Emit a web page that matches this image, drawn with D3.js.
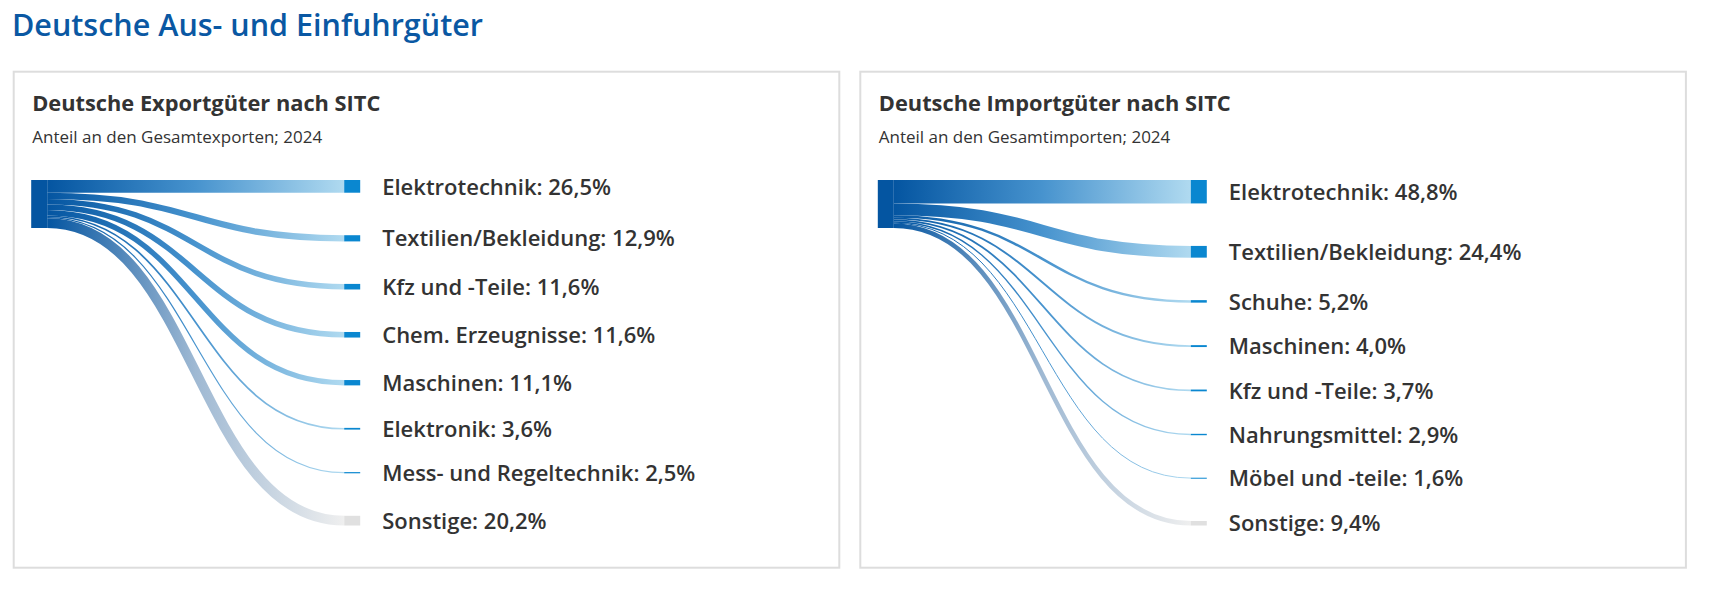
<!DOCTYPE html>
<html lang="de">
<head>
<meta charset="utf-8">
<script src="https://cdn.jsdelivr.net/npm/d3@7"></script>
<style>
  body { margin: 0; background: #fff; }
  text { font-family: "Open Sans", sans-serif; }
</style>
</head>
<body>
<svg id="chart" width="1731" height="598"></svg>
<script>
// Exporte 2024, Anteil in %
var exportLabels = ["Elektrotechnik", "Textilien/Bekleidung", "Kfz und -Teile", "Chem. Erzeugnisse",
  "Maschinen", "Elektronik", "Mess- und Regeltechnik", "Sonstige"];
var exportValues = [26.5, 12.9, 11.6, 11.6, 11.1, 3.6, 2.5, 20.2];

// Importe 2024, Anteil in %
var importLabels = ["Elektrotechnik", "Textilien/Bekleidung", "Schuhe", "Maschinen",
  "Kfz und -Teile", "Nahrungsmittel", "Möbel und -teile", "Sonstige"];
var importValues = [48.8, 24.4, 5.2, 4.0, 3.7, 2.9, 1.6, 9.4];

var svg = d3.select("#chart");
var defs = svg.append("defs");

var de = d3.formatLocale({decimal: ",", thousands: ".", grouping: [3], currency: ["", " €"]});
var fmt = de.format(".1f");

// link colours: source -> middle -> target end
var blueStops = ["#0455a1", "#4793ce", "#b0daf0"];
var greyStops = ["#0455a1", "#9fb9d3", "#efefef"];

svg.append("text")
  .attr("x", 12)
  .attr("y", 36)
  .attr("fill", "#0a58a3")
  .style("font-size", "30.5px")
  .style("font-weight", 600)
  .text("Deutsche Aus- und Einfuhrgüter");

function drawPanel(px, title, subtitle, labels, values, id) {
  var g = svg.append("g").attr("transform", "translate(" + px + ",0)");

  g.append("rect")
    .attr("x", 0).attr("y", 71.7)
    .attr("width", 825.6).attr("height", 496)
    .attr("fill", "none")
    .attr("stroke", "#dddddd")
    .attr("stroke-width", 2);

  g.append("text")
    .attr("x", 18.5).attr("y", 111)
    .attr("fill", "#333")
    .style("font-size", "21.8px")
    .style("font-weight", 700)
    .text(title);

  g.append("text")
    .attr("x", 18.5).attr("y", 143)
    .attr("fill", "#333")
    .style("font-size", "17px")
    .text(subtitle);

  // sankey layout: one source, one column of targets
  var top = 180, bottom = 525.5, padding = 42.5, nodeW = 16;
  var srcX0 = 17.5, tgtX0 = 330.5;
  var total = d3.sum(values);
  var h = d3.scaleLinear()
    .domain([0, total])
    .range([0, bottom - top - padding * (values.length - 1)]);

  var nodes = labels.map(function(name, i) {
    return {name: name, value: values[i], other: name == "Sonstige"};
  });
  var ty = top, sy = top;
  nodes.forEach(function(n) {
    n.h = h(n.value);
    n.y0 = ty;
    n.y1 = ty + n.h;
    n.sy = sy + n.h / 2;
    ty += n.h + padding;
    sy += n.h;
  });

  var link = d3.linkHorizontal().x(d => d[0]).y(d => d[1]);

  nodes.forEach(function(n, i) {
    var gid = id + "-grad-" + i;
    // userSpaceOnUse -> coordinates of the panel group
    var grad = defs.append("linearGradient")
      .attr("id", gid)
      .attr("gradientUnits", "userSpaceOnUse")
      .attr("x1", srcX0 + nodeW).attr("x2", tgtX0)
      .attr("y1", 0).attr("y2", 0);
    var stops = n.other ? greyStops : blueStops;
    stops.forEach(function(c, j) {
      grad.append("stop").attr("offset", j / (stops.length - 1)).attr("stop-color", c);
    });

    g.append("path")
      .attr("d", link({source: [srcX0 + nodeW, n.sy], target: [tgtX0, (n.y0 + n.y1) / 2]}))
      .attr("fill", "none")
      .attr("stroke", "url(#" + gid + ")")
      .attr("stroke-width", Math.max(1, n.h));
  });

  g.append("rect")
    .attr("x", srcX0).attr("y", top)
    .attr("width", nodeW).attr("height", h(total))
    .attr("fill", "#0455a1");

  g.selectAll(".target")
    .data(nodes)
    .enter().append("rect")
    .attr("x", tgtX0)
    .attr("y", d => d.y0)
    .attr("width", nodeW)
    .attr("height", d => Math.max(1, d.h))
    .attr("fill", d => d.other ? "#e0e0e0" : "#0a87d0");

  g.selectAll(".label")
    .data(nodes)
    .enter().append("text")
    .attr("x", tgtX0 + nodeW + 22)
    .attr("y", d => (d.y0 + d.y1) / 2)
    .attr("dy", "0.37em")
    .attr("fill", "#333")
    .style("font-size", "22px")
    .style("font-weight", 600)
    .text(d => d.name + ": " + fmt(d.value) + "%");
}

drawPanel(13.7, "Deutsche Exportgüter nach SITC", "Anteil an den Gesamtexporten; 2024",
  exportLabels, exportValues, "exp");
drawPanel(860.3, "Deutsche Importgüter nach SITC", "Anteil an den Gesamtimporten; 2024",
  importLabels, importValues, "imp");
</script>
</body>
</html>
